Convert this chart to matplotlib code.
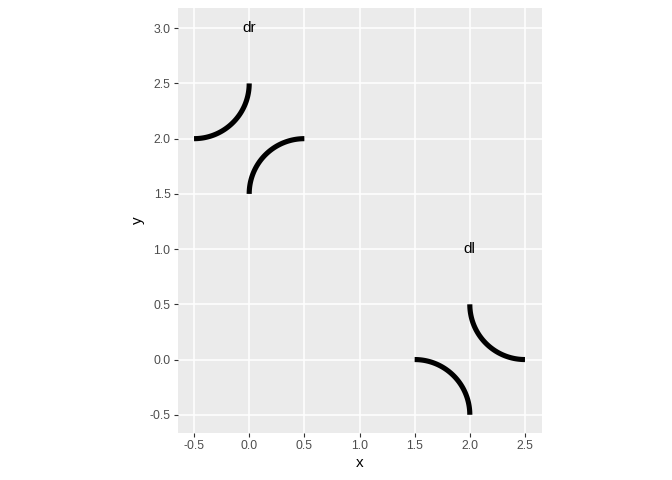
import numpy as np
import matplotlib
matplotlib.use('Agg')
import matplotlib.pyplot as plt

plt.rcParams['font.family'] = ['Liberation Sans', 'DejaVu Sans']

# curve segments: start and end points, plus the centre of each quarter arc
x_start = [-0.5, 0.0, 1.5, 2.0]
y_start = [2.0, 1.5, 0.0, 0.5]
x_end = [0.0, 0.5, 2.0, 2.5]
y_end = [2.5, 2.0, -0.5, 0.0]
x_centre = [-0.5, 0.5, 1.5, 2.5]
y_centre = [2.5, 1.5, -0.5, 0.5]

# labels
label_x = [0.0, 2.0]
label_y = [3.0, 1.0]
labels = ['dr', 'dl']

x_ticks = [-0.5, 0.0, 0.5, 1.0, 1.5, 2.0, 2.5]
y_ticks = [-0.5, 0.0, 0.5, 1.0, 1.5, 2.0, 2.5, 3.0]

fig = plt.figure(figsize=(6.72, 4.8), dpi=100)
ax = fig.add_axes([177.5 / 672, 1 - 433 / 480, 364 / 672, 425 / 480])
ax.set_facecolor('#EBEBEB')

for xs, ys, xe, ye, xc, yc in zip(x_start, y_start, x_end, y_end, x_centre, y_centre):
    r = np.hypot(xs - xc, ys - yc)
    a0 = np.arctan2(ys - yc, xs - xc)
    a1 = np.arctan2(ye - yc, xe - xc)
    d = (a1 - a0 + np.pi) % (2 * np.pi) - np.pi
    t = np.linspace(a0, a0 + d, 100)
    ax.plot(xc + r * np.cos(t), yc + r * np.sin(t), color='black', lw=3.7,
            solid_capstyle='butt', zorder=3)

for lx, ly, s in zip(label_x, label_y, labels):
    ax.text(lx, ly, s, ha='center', va='center', fontsize=11, color='black', zorder=4)

ax.set_xlim(-0.65, 2.65)
ax.set_ylim(-0.665, 3.183)
ax.set_xticks(x_ticks)
ax.set_yticks(y_ticks)
ax.set_xticklabels([f'{v:.1f}' for v in x_ticks])
ax.set_yticklabels([f'{v:.1f}' for v in y_ticks])
ax.grid(True, color='white', lw=1.1, zorder=0)
ax.set_axisbelow(True)
for sp in ax.spines.values():
    sp.set_visible(False)
ax.tick_params(colors='#4D4D4D', labelsize=8.8, length=3, width=0.8, color='#333333', pad=2)
ax.set_xlabel('x', fontsize=11, labelpad=3)
ax.set_ylabel('y', fontsize=11, labelpad=3)

fig.savefig('out.png', dpi=100)
